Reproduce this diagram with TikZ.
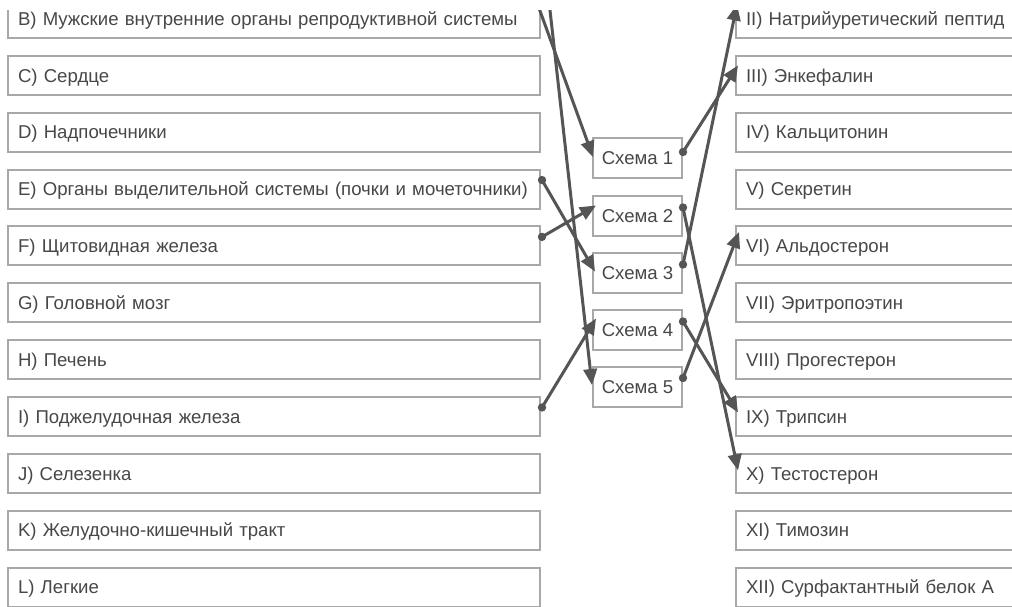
\documentclass[tikz,border=0pt]{standalone}
\usepackage{fontspec}
\setmainfont{Liberation Sans}
\usetikzlibrary{calc,arrows.meta}
\definecolor{boxgray}{HTML}{A8A8A8}
\definecolor{txtgray}{HTML}{474747}
\definecolor{arrgray}{HTML}{555555}
\tikzset{
  base/.style={draw=boxgray, line width=2pt, text=txtgray, font=\fontsize{18.6}{22}\selectfont,
    text height=15.5pt, text depth=2pt, inner sep=0pt, minimum height=39pt},
  lbox/.style={base, anchor=west, text width=512pt, inner xsep=10pt, align=left},
  rbox/.style={base, anchor=west, text width=300pt, inner xsep=10pt, align=left},
  mbox/.style={base, minimum width=89pt, minimum height=40pt},
  conn/.style={draw=arrgray, line width=3pt, -{Triangle[length=16pt,width=13.5pt]}},
  dotc/.style={fill=arrgray}
}
\begin{document}
\begin{tikzpicture}[x=1pt,y=-1pt]
\useasboundingbox (0,0) rectangle (1012,607);
\clip (0,11) rectangle (1012,607);
% left column
\node[lbox] (B) at (7,18.5) {B) Мужские внутренние органы репродуктивной системы};
\node[lbox] (C) at (7,75.35) {C) Сердце};
\node[lbox] (D) at (7,132.2) {D) Надпочечники};
\node[lbox] (E) at (7,189.05) {E) Органы выделительной системы (почки и мочеточники)};
\node[lbox] (F) at (7,245.9) {F) Щитовидная железа};
\node[lbox] (G) at (7,302.75) {G) Головной мозг};
\node[lbox] (H) at (7,359.6) {H) Печень};
\node[lbox] (I) at (7,416.45) {I) Поджелудочная железа};
\node[lbox] (J) at (7,473.3) {J) Селезенка};
\node[lbox] (K) at (7,530.15) {K) Желудочно-кишечный тракт};
\node[lbox] (L) at (7,587) {L) Легкие};
% right column
\node[rbox] (r2) at (735,18.5) {II) Натрийуретический пептид};
\node[rbox] (r3) at (735,75.35) {III) Энкефалин};
\node[rbox] (r4) at (735,132.2) {IV) Кальцитонин};
\node[rbox] (r5) at (735,189.05) {V) Секретин};
\node[rbox] (r6) at (735,245.9) {VI) Альдостерон};
\node[rbox] (r7) at (735,302.75) {VII) Эритропоэтин};
\node[rbox] (r8) at (735,359.6) {VIII) Прогестерон};
\node[rbox] (r9) at (735,416.45) {IX) Трипсин};
\node[rbox] (r10) at (735,473.3) {X) Тестостерон};
\node[rbox] (r11) at (735,530.15) {XI) Тимозин};
\node[rbox] (r12) at (735,587) {XII) Сурфактантный белок A};
% middle column
\node[mbox] (s1) at (637.5,158) {Схема 1};
\node[mbox] (s2) at (637.5,215.5) {Схема 2};
\node[mbox] (s3) at (637.5,272.5) {Схема 3};
\node[mbox] (s4) at (637.5,329.5) {Схема 4};
\node[mbox] (s5) at (637.5,387) {Схема 5};
% free ends above the visible area
\coordinate (topA) at (528.8,-20);
\coordinate (topB) at (546.6,-20);
% source points
\coordinate (Ep) at ($(E.east)+(1,-9)$);
\coordinate (Fp) at ($(F.east)+(1,-9)$);
\coordinate (Ip) at ($(I.east)+(1,-9)$);
\coordinate (s1p) at ($(s1.east)+(0,-6)$);
\coordinate (s2p) at ($(s2.east)+(0,-8)$);
\coordinate (s3p) at ($(s3.east)+(0,-8)$);
\coordinate (s4p) at ($(s4.east)+(0,-8)$);
\coordinate (s5p) at ($(s5.east)+(0,-9)$);
% connectors
\draw[conn] (topA) -- ($(s1.west)+(1,-1)$);
\draw[conn] (topB) -- ($(s5.west)+(0,-2)$);
\draw[conn] (Ep) -- ($(s3.west)+(3,-1)$);
\draw[conn] (Fp) -- ($(s2.west)+(4,-10)$);
\draw[conn] (Ip) -- ($(s4.west)+(4,-11)$);
\draw[conn] (s1p) -- ($(r3.west)+(3,-10)$);
\draw[conn] (s3p) -- ($(r2.west)+(2,-14)$);
\draw[conn] (s2p) -- ($(r10.west)+(3,-3)$);
\draw[conn] (s4p) -- ($(r9.west)+(3,-4)$);
\draw[conn] (s5p) -- ($(r6.west)+(4,-14)$);
% dots
\foreach \p in {Ep,Fp,Ip,s1p,s2p,s3p,s4p,s5p} \fill[dotc] (\p) circle (4.2pt);
\end{tikzpicture}
\end{document}
